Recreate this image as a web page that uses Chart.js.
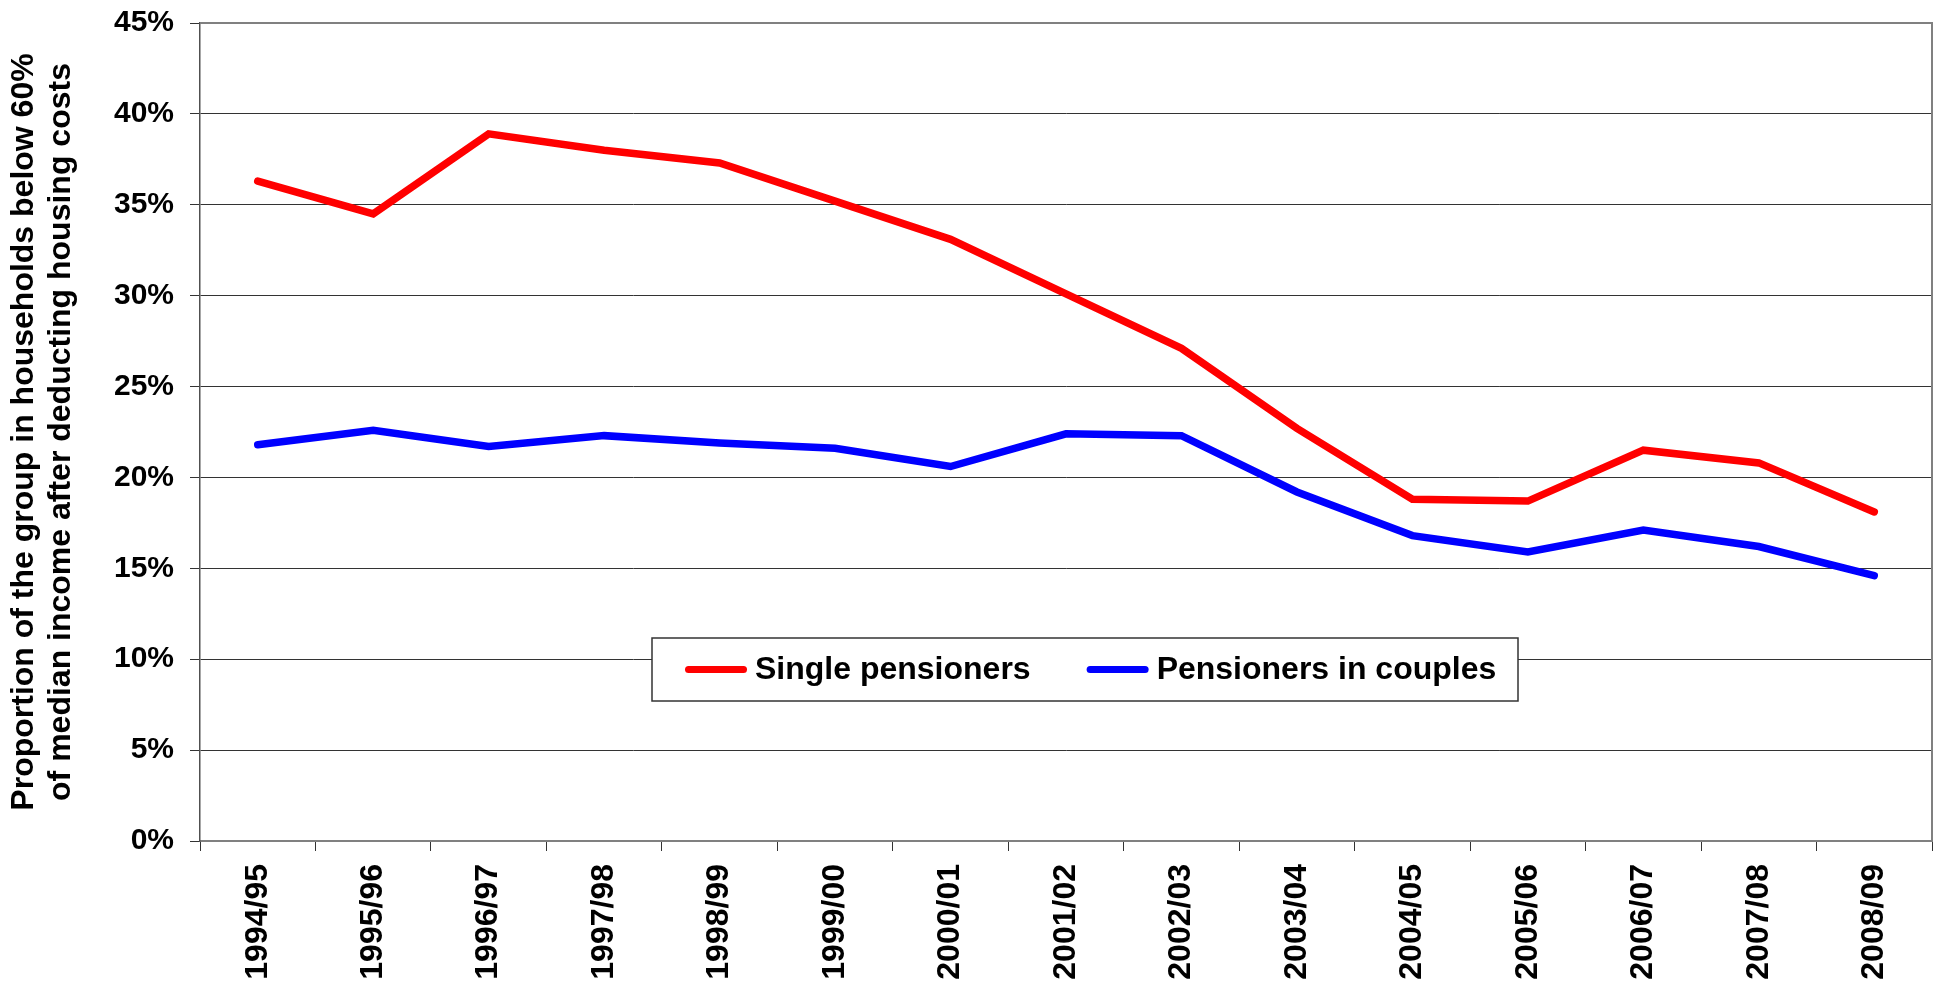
<!DOCTYPE html>
<html>
<head>
<meta charset="utf-8">
<script src="https://cdn.jsdelivr.net/npm/chart.js@4.4.1/dist/chart.umd.min.js"></script>
<style>
  html, body { margin: 0; padding: 0; background: #fff; }
  #wrap { width: 1935px; height: 984px; position: relative; }
</style>
</head>
<body>
<div id="wrap"><canvas id="c" width="1935" height="984"></canvas></div>
<script>
const categories = ["1994/95","1995/96","1996/97","1997/98","1998/99","1999/00","2000/01","2001/02","2002/03","2003/04","2004/05","2005/06","2006/07","2007/08","2008/09"];
const singlePensioners = [36.3, 34.5, 38.9, 38.0, 37.3, 35.2, 33.1, 30.1, 27.1, 22.7, 18.8, 18.7, 21.5, 20.8, 18.1];
const pensionersInCouples = [21.8, 22.6, 21.7, 22.3, 21.9, 21.6, 20.6, 22.4, 22.3, 19.2, 16.8, 15.9, 17.1, 16.2, 14.6];
const seriesLabels = ["Single pensioners", "Pensioners in couples"];
const yAxisTitle = ["Proportion of the group in households below 60%", "of median income after deducting housing costs"];
const yMin = 0, yMax = 45, yStep = 5;

const FONT = '"Liberation Sans", Arial, Helvetica, sans-serif';

const framePlugin = {
  id: 'plotFrame',
  afterDatasetsDraw(chart) {
    const a = chart.chartArea, ctx = chart.ctx;
    ctx.save();
    ctx.strokeStyle = '#808080';
    ctx.lineWidth = 2;
    ctx.beginPath();
    ctx.moveTo(a.left, a.top);
    ctx.lineTo(a.right, a.top);
    ctx.lineTo(a.right, a.bottom);
    ctx.stroke();
    ctx.restore();
  }
};

const boxLegendPlugin = {
  id: 'boxLegend',
  afterDraw(chart, args, o) {
    const ctx = chart.ctx;
    ctx.save();
    ctx.fillStyle = '#ffffff';
    ctx.fillRect(o.x, o.y, o.w, o.h);
    ctx.strokeStyle = '#333333';
    ctx.lineWidth = 1.5;
    ctx.strokeRect(o.x, o.y, o.w, o.h);
    ctx.font = 'bold ' + o.fontSize + 'px ' + FONT;
    ctx.textBaseline = 'middle';
    ctx.textAlign = 'left';
    const cy = o.y + o.h / 2;
    let x = o.x + o.padLeft;
    chart.data.datasets.forEach((ds) => {
      ctx.strokeStyle = ds.borderColor;
      ctx.lineWidth = 7;
      ctx.lineCap = 'round';
      ctx.beginPath();
      ctx.moveTo(x + 3.5, cy);
      ctx.lineTo(x + o.sample - 3.5, cy);
      ctx.stroke();
      ctx.fillStyle = '#000000';
      const tx = x + o.sample + o.gap;
      ctx.fillText(ds.label, tx, cy + 1);
      x = tx + ctx.measureText(ds.label).width + o.itemGap;
    });
    ctx.restore();
  }
};

new Chart(document.getElementById('c'), {
  type: 'line',
  data: {
    labels: categories,
    datasets: [
      { label: seriesLabels[0], data: singlePensioners, borderColor: '#FF0000', backgroundColor: '#FF0000',
        borderWidth: 7.5, pointRadius: 0, tension: 0, borderCapStyle: 'round', borderJoinStyle: 'miter', fill: false },
      { label: seriesLabels[1], data: pensionersInCouples, borderColor: '#0000FF', backgroundColor: '#0000FF',
        borderWidth: 7.5, pointRadius: 0, tension: 0, borderCapStyle: 'round', borderJoinStyle: 'miter', fill: false }
    ]
  },
  options: {
    responsive: false,
    animation: false,
    devicePixelRatio: 1,
    layout: { padding: { top: 23, right: 3, left: 0, bottom: 0 } },
    plugins: {
      legend: { display: false },
      tooltip: { enabled: false },
      boxLegend: { x: 652, y: 638, w: 866, h: 63, padLeft: 33, sample: 62, gap: 8, itemGap: 56, fontSize: 32 }
    },
    scales: {
      x: {
        type: 'category',
        offset: true,
        grid: { offset: true, drawOnChartArea: false, drawTicks: true, tickLength: 10, color: '#333333', lineWidth: 1 },
        border: { display: true, color: '#808080', width: 2 },
        ticks: {
          autoSkip: false, maxRotation: 90, minRotation: 90, padding: 13,
          color: '#000', font: { family: FONT, size: 32, weight: 'bold' }
        },
        afterFit(scale) { scale.height = 143; }
      },
      y: {
        min: yMin, max: yMax,
        grid: { color: '#333333', lineWidth: 1, tickLength: 10, drawTicks: true },
        border: { display: true, color: '#505050', width: 1.5 },
        ticks: {
          stepSize: yStep, padding: 16, color: '#000',
          font: { family: FONT, size: 30, weight: 'bold' },
          callback: (v) => v + '%'
        },
        title: {
          display: true, text: yAxisTitle, color: '#000',
          font: { family: FONT, size: 32, weight: 'bold', lineHeight: 1.15 },
          padding: { top: 6, bottom: 0 }
        },
        afterFit(scale) { scale.width = 200; scale.paddingTop = 0; scale.paddingBottom = 0; }
      }
    }
  },
  plugins: [framePlugin, boxLegendPlugin]
});
</script>
</body>
</html>
